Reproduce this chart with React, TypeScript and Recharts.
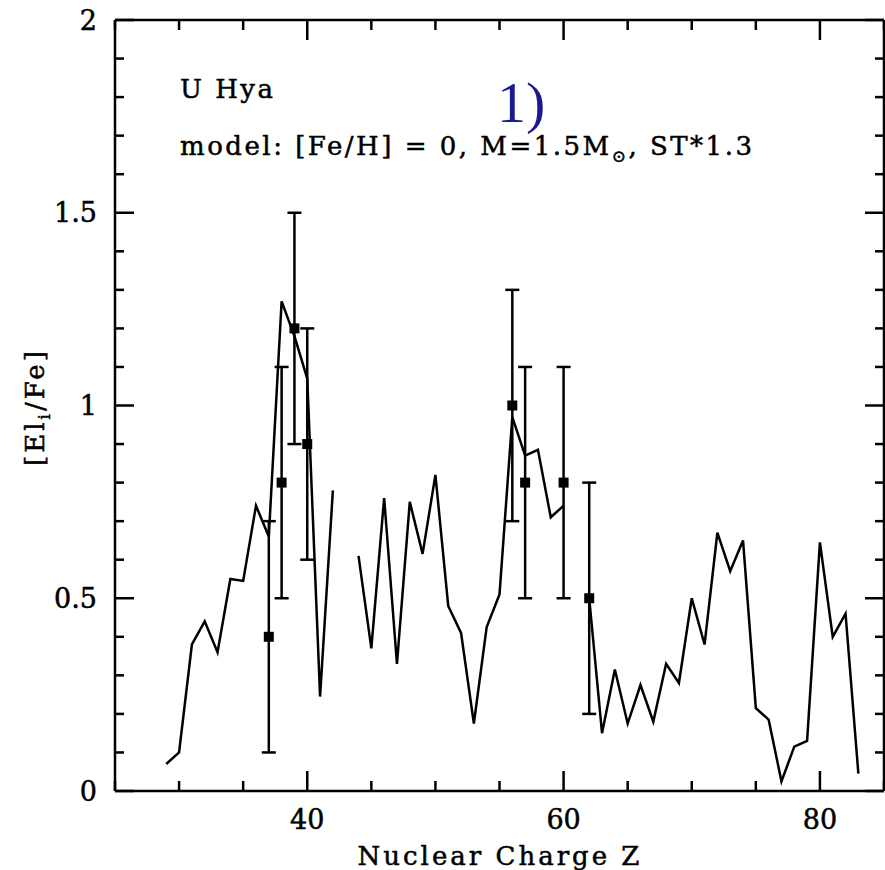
import React from 'react';
import { ComposedChart, Line, Scatter, ErrorBar, XAxis, YAxis } from 'recharts';

// model curve, nuclear charge Z vs [El/Fe] (null = gap)
const modelZ = [
  29, 30, 31, 32, 33, 34, 35, 36, 37, 38, 39, 40, 41, 42, 43, 44, 45, 46, 47, 48,
  49, 50, 51, 52, 53, 54, 55, 56, 57, 58, 59, 60, 61, 62, 63, 64, 65, 66, 67, 68,
  69, 70, 71, 72, 73, 74, 75, 76, 77, 78, 79, 80, 81, 82, 83,
];
const modelVal = [
  0.07, 0.1, 0.38, 0.44, 0.36, 0.55, 0.545, 0.74, 0.66, 1.27, 1.18, 1.07, 0.245, 0.78, null, 0.61, 0.37, 0.76, 0.33, 0.75,
  0.615, 0.82, 0.48, 0.41, 0.175, 0.425, 0.51, 0.97, 0.87, 0.885, 0.71, 0.74, null, 0.5, 0.15, 0.315, 0.175, 0.275, 0.18, 0.33,
  0.28, 0.5, 0.38, 0.67, 0.57, 0.65, 0.215, 0.185, 0.025, 0.115, 0.13, 0.645, 0.4, 0.46, 0.045,
];

// observed abundances of U Hya
const obsZ = [37, 38, 39, 40, 56, 57, 60, 62];
const obsVal = [0.4, 0.8, 1.2, 0.9, 1.0, 0.8, 0.8, 0.5];
const obsErr = [0.3, 0.3, 0.3, 0.3, 0.3, 0.3, 0.3, 0.3];

const xTicks = [25, 30, 35, 40, 45, 50, 55, 60, 65, 70, 75, 80, 85];
const yTicks = [
  0, 0.1, 0.2, 0.3, 0.4, 0.5, 0.6, 0.7, 0.8, 0.9, 1, 1.1, 1.2, 1.3, 1.4, 1.5, 1.6, 1.7, 1.8, 1.9, 2,
];

const modelData = modelZ.map((z, i) => ({ z, v: modelVal[i] }));
const obsData = obsZ.map((z, i) => ({ z, v: obsVal[i], err: obsErr[i] }));

const FONT = '"DejaVu Serif", serif';
const SW = 2.5;
const txt = { fontFamily: FONT, fill: '#000', stroke: '#000', strokeWidth: 0.5 };

const isMajorY = (v: number) => Math.abs(v * 2 - Math.round(v * 2)) < 1e-6;

// ticks point inward on every side
const BottomTick = ({ x, y, payload }: any) => {
  const major = payload.value % 20 === 0;
  return (
    <g>
      <line x1={x} x2={x} y1={y} y2={y - (major ? 20 : 10)} stroke="#000" strokeWidth={SW} />
      {major && (
        <text x={x} y={y + 38} textAnchor="middle" fontSize={27} {...txt}>
          {payload.value}
        </text>
      )}
    </g>
  );
};

const TopTick = ({ x, y, payload }: any) => {
  const major = payload.value % 20 === 0;
  return <line x1={x} x2={x} y1={y} y2={y + (major ? 20 : 10)} stroke="#000" strokeWidth={SW} />;
};

const LeftTick = ({ x, y, payload }: any) => {
  const major = isMajorY(payload.value);
  return (
    <g>
      <line x1={x} x2={x + (major ? 19 : 9)} y1={y} y2={y} stroke="#000" strokeWidth={SW} />
      {major && (
        <text x={x - 18} y={y} textAnchor="end" dominantBaseline="central" fontSize={27} {...txt}>
          {payload.value}
        </text>
      )}
    </g>
  );
};

const RightTick = ({ x, y, payload }: any) => {
  const major = isMajorY(payload.value);
  return <line x1={x} x2={x - (major ? 19 : 9)} y1={y} y2={y} stroke="#000" strokeWidth={SW} />;
};

const Square = ({ cx, cy }: any) => <rect x={cx - 5} y={cy - 5} width={10} height={10} fill="#000" />;

const axisLine = { stroke: '#000', strokeWidth: SW };

export default function App() {
  return (
    <div style={{ position: 'absolute', left: 0, top: 0, width: 885, height: 870, background: '#fff' }}>
      <ComposedChart width={885} height={870} margin={{ top: 19, right: 0, bottom: 78, left: 114 }}>
        <XAxis
          xAxisId="b"
          type="number"
          dataKey="z"
          domain={[25, 85]}
          ticks={xTicks}
          height={1}
          tickSize={0}
          tickMargin={0}
          tickLine={false}
          tick={<BottomTick />}
          interval={0}
          axisLine={axisLine}
          allowDataOverflow
        />
        <XAxis
          xAxisId="t"
          orientation="top"
          type="number"
          dataKey="z"
          domain={[25, 85]}
          ticks={xTicks}
          height={1}
          tickSize={0}
          tickMargin={0}
          tickLine={false}
          tick={<TopTick />}
          interval={0}
          axisLine={axisLine}
          allowDataOverflow
        />
        <YAxis
          yAxisId="l"
          type="number"
          domain={[0, 2]}
          ticks={yTicks}
          width={1}
          tickSize={0}
          tickMargin={0}
          tickLine={false}
          tick={<LeftTick />}
          interval={0}
          axisLine={axisLine}
          allowDataOverflow
        />
        <YAxis
          yAxisId="r"
          orientation="right"
          type="number"
          domain={[0, 2]}
          ticks={yTicks}
          width={1}
          tickSize={0}
          tickMargin={0}
          tickLine={false}
          tick={<RightTick />}
          interval={0}
          axisLine={axisLine}
          allowDataOverflow
        />
        <Line
          xAxisId="b"
          yAxisId="l"
          data={modelData}
          dataKey="v"
          type="linear"
          stroke="#000"
          strokeWidth={SW}
          dot={false}
          activeDot={false}
          connectNulls={false}
          isAnimationActive={false}
        />
        {/* invisible series so the top/right axes get rendered */}
        <Line
          xAxisId="t"
          yAxisId="r"
          data={modelData}
          dataKey="v"
          stroke="none"
          dot={false}
          activeDot={false}
          isAnimationActive={false}
        />
        <Scatter
          xAxisId="b"
          yAxisId="l"
          data={obsData}
          dataKey="v"
          shape={<Square />}
          isAnimationActive={false}
        >
          <ErrorBar dataKey="err" direction="y" width={7} stroke="#000" strokeWidth={SW} isAnimationActive={false} />
        </Scatter>
        <text x={180} y={98} fontSize={26} letterSpacing={2.5} {...txt}>
          U Hya
        </text>
        <text x={180} y={155} fontSize={26} letterSpacing={2.5} {...txt}>
          model: [Fe/H] = 0, M=1.5M
          <tspan fontSize={17} dy={7}>⊙</tspan>
          <tspan dy={-7}>, ST*1.3</tspan>
        </text>
        <text x={497} y={122} fontFamily='"Liberation Serif", serif' fontSize={58} fill="#1a1a8e">
          1)
        </text>
        <text x={500} y={865} textAnchor="middle" fontSize={26} letterSpacing={3} {...txt}>
          Nuclear Charge Z
        </text>
        <text x={44} y={407} textAnchor="middle" transform="rotate(-90 44 407)" fontSize={26} letterSpacing={3} {...txt}>
          [El<tspan fontSize={17} dy={6}>i</tspan>
          <tspan dy={-6}>/Fe]</tspan>
        </text>
      </ComposedChart>
    </div>
  );
}
